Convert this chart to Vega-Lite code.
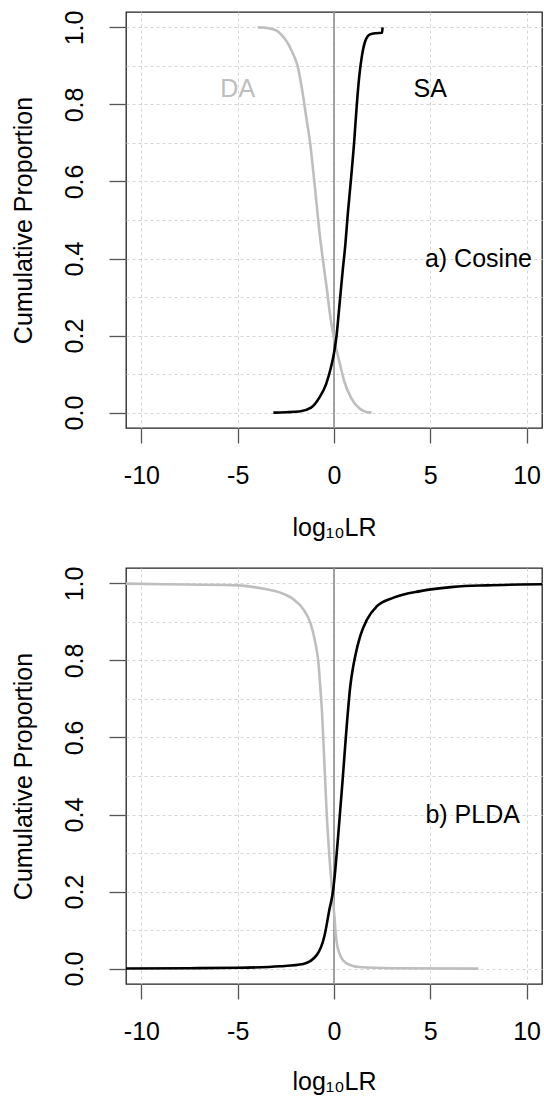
{
  "$schema": "https://vega.github.io/schema/vega-lite/v6.json",
  "autosize": {"type": "pad"},
  "padding": {"left": 10, "top": 9, "right": 0, "bottom": 0},
  "background": "white",
  "config": {
    "font": "Liberation Sans",
    "view": {"stroke": "#222222", "strokeWidth": 1.3},
    "concat": {"spacing": 24},
    "axis": {
      "domain": false,
      "tickColor": "#555555",
      "tickWidth": 1.3,
      "labelFont": "Liberation Sans",
      "labelFontSize": 25,
      "labelColor": "#000000",
      "labelFlush": false,
      "labelOverlap": false,
      "titleFont": "Liberation Sans",
      "titleFontSize": 25,
      "titleFontWeight": "normal",
      "titleColor": "#000000",
      "grid": true,
      "gridColor": "#d3d3d3",
      "gridDash": [3, 3],
      "gridWidth": 1
    }
  },
  "datasets": {
    "cosine": [
      {"group": "DA", "x": -3.96, "y": 1.0},
      {"group": "DA", "x": -3.4, "y": 0.998},
      {"group": "DA", "x": -3.0, "y": 0.992},
      {"group": "DA", "x": -2.75, "y": 0.982},
      {"group": "DA", "x": -2.41, "y": 0.96},
      {"group": "DA", "x": -2.15, "y": 0.934},
      {"group": "DA", "x": -1.89, "y": 0.9},
      {"group": "DA", "x": -1.63, "y": 0.83},
      {"group": "DA", "x": -1.45, "y": 0.77},
      {"group": "DA", "x": -1.24, "y": 0.7},
      {"group": "DA", "x": -1.07, "y": 0.623},
      {"group": "DA", "x": -0.88, "y": 0.53},
      {"group": "DA", "x": -0.76, "y": 0.471},
      {"group": "DA", "x": -0.59, "y": 0.402},
      {"group": "DA", "x": -0.38, "y": 0.324},
      {"group": "DA", "x": -0.16, "y": 0.238},
      {"group": "DA", "x": 0.07, "y": 0.177},
      {"group": "DA", "x": 0.27, "y": 0.134},
      {"group": "DA", "x": 0.53, "y": 0.082},
      {"group": "DA", "x": 0.88, "y": 0.039},
      {"group": "DA", "x": 1.31, "y": 0.011},
      {"group": "DA", "x": 1.6, "y": 0.003},
      {"group": "DA", "x": 1.95, "y": 0.0},
      {"group": "SA", "x": -3.15, "y": 0.0},
      {"group": "SA", "x": -2.5, "y": 0.001},
      {"group": "SA", "x": -1.8, "y": 0.003},
      {"group": "SA", "x": -1.19, "y": 0.013},
      {"group": "SA", "x": -0.76, "y": 0.039},
      {"group": "SA", "x": -0.41, "y": 0.074},
      {"group": "SA", "x": -0.16, "y": 0.117},
      {"group": "SA", "x": 0.02, "y": 0.16},
      {"group": "SA", "x": 0.14, "y": 0.203},
      {"group": "SA", "x": 0.27, "y": 0.272},
      {"group": "SA", "x": 0.45, "y": 0.368},
      {"group": "SA", "x": 0.59, "y": 0.437},
      {"group": "SA", "x": 0.72, "y": 0.518},
      {"group": "SA", "x": 0.88, "y": 0.605},
      {"group": "SA", "x": 1.05, "y": 0.705},
      {"group": "SA", "x": 1.17, "y": 0.79},
      {"group": "SA", "x": 1.31, "y": 0.872},
      {"group": "SA", "x": 1.45, "y": 0.926},
      {"group": "SA", "x": 1.62, "y": 0.964},
      {"group": "SA", "x": 1.87, "y": 0.982},
      {"group": "SA", "x": 2.18, "y": 0.985},
      {"group": "SA", "x": 2.5, "y": 0.986},
      {"group": "SA", "x": 2.52, "y": 1.0}
    ],
    "plda": [
      {"group": "DA", "x": -11.5, "y": 1.0},
      {"group": "DA", "x": -7.6, "y": 0.997},
      {"group": "DA", "x": -5.0, "y": 0.995},
      {"group": "DA", "x": -3.65, "y": 0.986},
      {"group": "DA", "x": -2.79, "y": 0.976},
      {"group": "DA", "x": -2.09, "y": 0.958},
      {"group": "DA", "x": -1.58, "y": 0.932},
      {"group": "DA", "x": -1.23, "y": 0.898},
      {"group": "DA", "x": -0.97, "y": 0.846},
      {"group": "DA", "x": -0.8, "y": 0.79},
      {"group": "DA", "x": -0.73, "y": 0.742},
      {"group": "DA", "x": -0.62, "y": 0.664},
      {"group": "DA", "x": -0.5, "y": 0.534},
      {"group": "DA", "x": -0.38, "y": 0.404},
      {"group": "DA", "x": -0.24, "y": 0.292},
      {"group": "DA", "x": -0.1, "y": 0.205},
      {"group": "DA", "x": 0.02, "y": 0.136},
      {"group": "DA", "x": 0.1, "y": 0.084},
      {"group": "DA", "x": 0.27, "y": 0.041},
      {"group": "DA", "x": 0.62, "y": 0.015},
      {"group": "DA", "x": 1.31, "y": 0.004},
      {"group": "DA", "x": 3.0, "y": 0.001},
      {"group": "DA", "x": 7.5, "y": 0.0},
      {"group": "SA", "x": -11.5, "y": 0.0},
      {"group": "SA", "x": -7.5, "y": 0.001},
      {"group": "SA", "x": -5.0, "y": 0.002},
      {"group": "SA", "x": -2.79, "y": 0.006},
      {"group": "SA", "x": -1.6, "y": 0.012},
      {"group": "SA", "x": -0.9, "y": 0.035},
      {"group": "SA", "x": -0.5, "y": 0.084},
      {"group": "SA", "x": -0.24, "y": 0.153},
      {"group": "SA", "x": -0.04, "y": 0.205},
      {"group": "SA", "x": 0.1, "y": 0.275},
      {"group": "SA", "x": 0.27, "y": 0.378},
      {"group": "SA", "x": 0.45, "y": 0.491},
      {"group": "SA", "x": 0.62, "y": 0.604},
      {"group": "SA", "x": 0.85, "y": 0.735},
      {"group": "SA", "x": 1.0, "y": 0.785},
      {"group": "SA", "x": 1.1, "y": 0.811},
      {"group": "SA", "x": 1.36, "y": 0.863},
      {"group": "SA", "x": 1.71, "y": 0.906},
      {"group": "SA", "x": 2.23, "y": 0.941},
      {"group": "SA", "x": 3.09, "y": 0.963},
      {"group": "SA", "x": 4.48, "y": 0.98},
      {"group": "SA", "x": 6.2, "y": 0.991},
      {"group": "SA", "x": 7.94, "y": 0.995},
      {"group": "SA", "x": 9.66, "y": 0.997},
      {"group": "SA", "x": 11.5, "y": 0.998}
    ]
  },
  "vconcat": [
    {
      "width": 416,
      "height": 416,
      "layer": [
        {
          "data": {"values": [{}]},
          "mark": {"type": "rule", "color": "#8c8c8c", "strokeWidth": 1.6},
          "encoding": {"x": {"datum": 0, "scale": {"domain": [-10.8, 10.8], "nice": false, "zero": false}}}
        },
        {
          "data": {"name": "cosine"},
          "mark": {"type": "line", "strokeWidth": 2.6, "clip": true, "interpolate": "monotone"},
          "encoding": {
            "x": {
              "field": "x", "type": "quantitative",
              "scale": {"domain": [-10.8, 10.8], "nice": false, "zero": false},
              "axis": {"values": [-10, -5, 0, 5, 10], "labelExpr": "'' + datum.value", "tickSize": 15, "labelPadding": 20, "title": "log₁₀LR", "titlePadding": 27}
            },
            "y": {
              "field": "y", "type": "quantitative",
              "scale": {"domain": [-0.04, 1.04], "nice": false, "zero": false},
              "axis": {
                "values": [0, 0.1, 0.2, 0.3, 0.4, 0.5, 0.6, 0.7, 0.8, 0.9, 1.0],
                "labelExpr": "round(datum.value*10)%2==0 ? format(datum.value, '.1f') : ''",
                "tickOpacity": {"condition": {"test": "round(datum.value*10)%2==1", "value": 0}, "value": 1},
                "tickSize": 17, "labelAngle": 270, "labelAlign": "center", "labelBaseline": "alphabetic", "labelPadding": 27,
                "title": "Cumulative Proportion", "titlePadding": 26
              }
            },
            "color": {"field": "group", "type": "nominal", "scale": {"domain": ["DA", "SA"], "range": ["#bebebe", "#000000"]}, "legend": null}
          }
        },
        {
          "data": {"values": [{}]},
          "mark": {"type": "text", "text": "DA", "fontSize": 25, "color": "#bebebe", "align": "center", "baseline": "middle"},
          "encoding": {"x": {"datum": -5}, "y": {"datum": 0.84}}
        },
        {
          "data": {"values": [{}]},
          "mark": {"type": "text", "text": "SA", "fontSize": 25, "color": "#000000", "align": "center", "baseline": "middle"},
          "encoding": {"x": {"datum": 5}, "y": {"datum": 0.84}}
        },
        {
          "data": {"values": [{}]},
          "mark": {"type": "text", "text": "a) Cosine", "fontSize": 25, "color": "#000000", "align": "center", "baseline": "middle"},
          "encoding": {"x": {"datum": 7.5}, "y": {"datum": 0.4}}
        }
      ]
    },
    {
      "width": 416,
      "height": 416,
      "layer": [
        {
          "data": {"values": [{}]},
          "mark": {"type": "rule", "color": "#8c8c8c", "strokeWidth": 1.6},
          "encoding": {"x": {"datum": 0, "scale": {"domain": [-10.8, 10.8], "nice": false, "zero": false}}}
        },
        {
          "data": {"name": "plda"},
          "mark": {"type": "line", "strokeWidth": 2.6, "clip": true, "interpolate": "monotone"},
          "encoding": {
            "x": {
              "field": "x", "type": "quantitative",
              "scale": {"domain": [-10.8, 10.8], "nice": false, "zero": false},
              "axis": {"values": [-10, -5, 0, 5, 10], "labelExpr": "'' + datum.value", "tickSize": 15, "labelPadding": 20, "title": "log₁₀LR", "titlePadding": 25}
            },
            "y": {
              "field": "y", "type": "quantitative",
              "scale": {"domain": [-0.04, 1.04], "nice": false, "zero": false},
              "axis": {
                "values": [0, 0.1, 0.2, 0.3, 0.4, 0.5, 0.6, 0.7, 0.8, 0.9, 1.0],
                "labelExpr": "round(datum.value*10)%2==0 ? format(datum.value, '.1f') : ''",
                "tickOpacity": {"condition": {"test": "round(datum.value*10)%2==1", "value": 0}, "value": 1},
                "tickSize": 17, "labelAngle": 270, "labelAlign": "center", "labelBaseline": "alphabetic", "labelPadding": 27,
                "title": "Cumulative Proportion", "titlePadding": 26
              }
            },
            "color": {"field": "group", "type": "nominal", "scale": {"domain": ["DA", "SA"], "range": ["#bebebe", "#000000"]}, "legend": null}
          }
        },
        {
          "data": {"values": [{}]},
          "mark": {"type": "text", "text": "b) PLDA", "fontSize": 25, "color": "#000000", "align": "center", "baseline": "middle"},
          "encoding": {"x": {"datum": 7.2}, "y": {"datum": 0.4}}
        }
      ]
    }
  ]
}
